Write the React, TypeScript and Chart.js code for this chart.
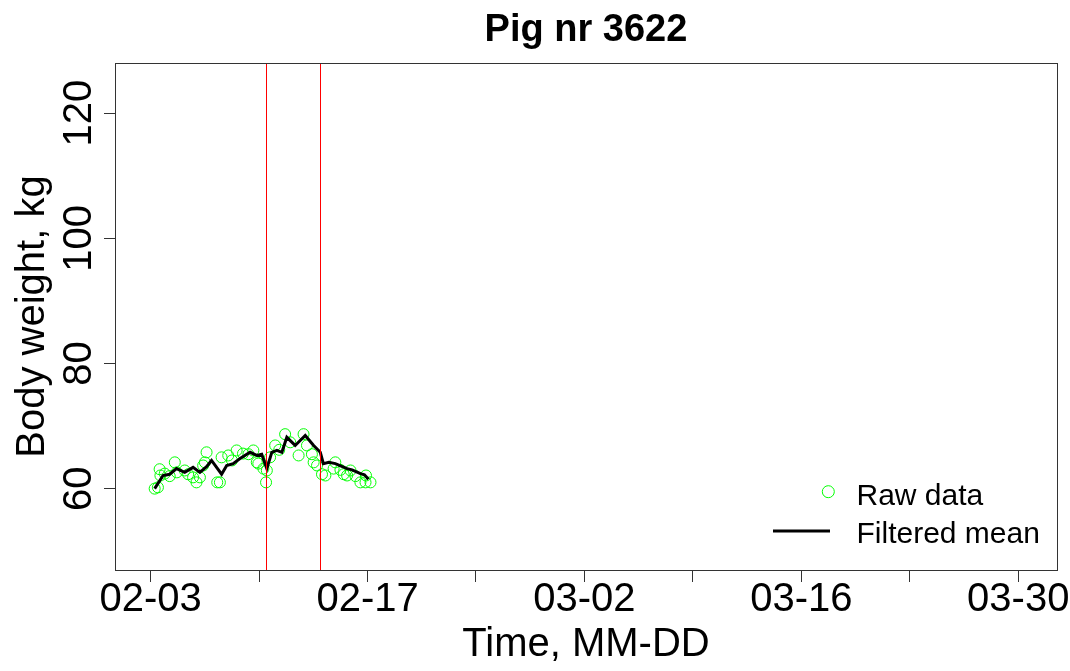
import React, { useEffect, useRef } from "react";
import { Chart, registerables } from "chart.js";

Chart.register(...registerables);

// Days since 02-03 (2020) and body weight (kg)
const rawDays = [0.26, 0.47, 0.58, 0.63, 0.91, 1.23, 1.56, 1.69, 2.2, 2.42, 2.74, 2.96, 3.18, 3.39, 3.5, 3.61, 4.3, 4.47, 4.58, 5.01, 5.25, 5.55, 5.96, 6.31, 6.63, 6.85, 6.95, 7.28, 7.45, 7.5, 7.71, 8.04, 8.3, 8.68, 9.01, 9.55, 9.87, 10.09, 10.41, 10.52, 10.74, 11.06, 11.28, 11.81, 11.92, 12.25, 12.46, 12.68, 12.9, 13.22, 13.54, 13.87, 13.9, 14.19];
const rawWeights = [60.0, 60.2, 63.1, 62.1, 62.4, 62.0, 64.2, 62.6, 62.9, 62.3, 61.8, 61.0, 61.8, 63.7, 64.2, 65.8, 61.0, 61.0, 65.0, 65.3, 64.5, 66.1, 65.6, 65.5, 66.1, 64.2, 64.0, 63.2, 61.0, 62.9, 65.0, 66.9, 66.2, 68.7, 67.4, 65.3, 68.7, 66.9, 65.5, 64.2, 63.7, 62.3, 62.1, 63.2, 64.2, 63.0, 62.3, 62.1, 62.9, 62.0, 61.0, 61.0, 62.1, 61.0];

const filteredDays = [0.26, 0.8, 1.23, 1.67, 2.2, 2.74, 3.18, 3.61, 3.93, 4.58, 4.91, 5.33, 5.77, 6.42, 6.85, 7.17, 7.5, 7.82, 8.15, 8.47, 8.79, 9.33, 9.98, 10.52, 10.95, 11.15, 11.5, 11.92, 12.3, 12.68, 13.0, 13.54, 13.8, 14.06];
const filteredWeights = [60.0, 62.1, 62.3, 63.2, 62.6, 63.4, 62.6, 63.5, 64.5, 62.3, 63.7, 64.0, 64.8, 65.8, 65.3, 65.5, 63.2, 65.8, 66.1, 65.8, 68.2, 66.9, 68.5, 66.9, 65.8, 64.0, 64.2, 64.0, 63.6, 63.2, 63.0, 62.4, 62.2, 61.5];

const redLineDays = [7.47, 10.93];

const xMajorTicks = [0, 14, 28, 42, 56];
const xTickLabels = ["02-03", "02-17", "03-02", "03-16", "03-30"];
const xAllTicks = [0, 7, 14, 21, 28, 35, 42, 49, 56];
const yTicks = [60, 80, 100, 120];

const FONT = '"Liberation Sans", Arial, sans-serif';
const W = 1070;
const H = 671;

const decorPlugin = {
  id: "decor",
  afterDatasetsDraw(chart: any) {
    const { ctx, chartArea, scales } = chart;
    const xs = scales.x;
    const ys = scales.y;
    ctx.save();
    // red vertical lines
    ctx.strokeStyle = "#ff0000";
    ctx.lineWidth = 1;
    redLineDays.forEach((d) => {
      const px = Math.round(xs.getPixelForValue(d)) + 0.5;
      ctx.beginPath();
      ctx.moveTo(px, chartArea.top);
      ctx.lineTo(px, chartArea.bottom);
      ctx.stroke();
    });
    // box
    ctx.strokeStyle = "#333333";
    ctx.lineWidth = 1;
    ctx.strokeRect(
      Math.round(chartArea.left) + 0.5,
      Math.round(chartArea.top) + 0.5,
      Math.round(chartArea.right) - Math.round(chartArea.left),
      Math.round(chartArea.bottom) - Math.round(chartArea.top)
    );
    ctx.fillStyle = "#000";
    // title
    ctx.font = `bold 38px ${FONT}`;
    ctx.textAlign = "center";
    ctx.textBaseline = "alphabetic";
    const cx = (chartArea.left + chartArea.right) / 2;
    ctx.fillText("Pig nr 3622", cx, 41);
    // x tick labels
    ctx.font = `40px ${FONT}`;
    xMajorTicks.forEach((v, i) => {
      ctx.fillText(xTickLabels[i], xs.getPixelForValue(v), 611);
    });
    // x title
    ctx.fillText("Time, MM-DD", cx, 656);
    // y tick labels (rotated)
    yTicks.forEach((v) => {
      ctx.save();
      ctx.translate(91, ys.getPixelForValue(v));
      ctx.rotate(-Math.PI / 2);
      ctx.fillText(String(v), 0, 0);
      ctx.restore();
    });
    // y title
    ctx.save();
    ctx.translate(44, (chartArea.top + chartArea.bottom) / 2);
    ctx.rotate(-Math.PI / 2);
    ctx.fillText("Body weight, kg", 0, 0);
    ctx.restore();
    // legend
    ctx.strokeStyle = "#00ff00";
    ctx.lineWidth = 1;
    ctx.beginPath();
    ctx.arc(828.3, 491.7, 6, 0, Math.PI * 2);
    ctx.stroke();
    ctx.strokeStyle = "#000";
    ctx.lineWidth = 3;
    ctx.beginPath();
    ctx.moveTo(773, 531);
    ctx.lineTo(830, 531);
    ctx.stroke();
    ctx.font = `30px ${FONT}`;
    ctx.textAlign = "left";
    ctx.fillText("Raw data", 856.5, 505);
    ctx.fillText("Filtered mean", 856.5, 543);
    ctx.restore();
  },
};

export default function App() {
  const ref = useRef<HTMLCanvasElement | null>(null);
  useEffect(() => {
    if (!ref.current) return;
    const chart = new Chart(ref.current, {
      type: "scatter",
      data: {
        datasets: [
          {
            type: "line",
            label: "Filtered mean",
            data: filteredDays.map((d, i) => ({ x: d, y: filteredWeights[i] })),
            borderColor: "#000",
            borderWidth: 3,
            pointRadius: 0,
            fill: false,
            tension: 0,
            order: 0,
          } as any,
          {
            type: "scatter",
            label: "Raw data",
            data: rawDays.map((d, i) => ({ x: d, y: rawWeights[i] })),
            borderColor: "#00ff00",
            backgroundColor: "rgba(0,0,0,0)",
            borderWidth: 1,
            pointRadius: 5.5,
            pointStyle: "circle",
            order: 1,
          },
        ],
      },
      options: {
        animation: false,
        responsive: false,
        maintainAspectRatio: false,
        layout: { padding: { left: 0, right: W - 1057, top: 63, bottom: 0 } },
        plugins: {
          legend: { display: false },
          tooltip: { enabled: false },
        },
        scales: {
          x: {
            type: "linear",
            min: -2.3,
            max: 58.5,
            afterBuildTicks: (s: any) => {
              s.ticks = xAllTicks.map((v) => ({ value: v }));
            },
            afterFit: (s: any) => {
              s.height = H - 570;
            },
            ticks: { display: false },
            grid: { drawOnChartArea: false, drawTicks: true, tickLength: 12, color: "#333", lineWidth: 1 },
            border: { display: false },
          },
          y: {
            type: "linear",
            min: 47,
            max: 128,
            afterBuildTicks: (s: any) => {
              s.ticks = yTicks.map((v) => ({ value: v }));
            },
            afterFit: (s: any) => {
              s.width = 115;
            },
            ticks: { display: false },
            grid: { drawOnChartArea: false, drawTicks: true, tickLength: 11, color: "#333", lineWidth: 1 },
            border: { display: false },
          },
        },
      },
      plugins: [decorPlugin],
    });
    return () => chart.destroy();
  }, []);
  return (
    <div style={{ position: "fixed", left: 0, top: 0, width: W, height: H, background: "#fff" }}>
      <canvas ref={ref} width={W} height={H} style={{ display: "block", width: W, height: H }} />
    </div>
  );
}
